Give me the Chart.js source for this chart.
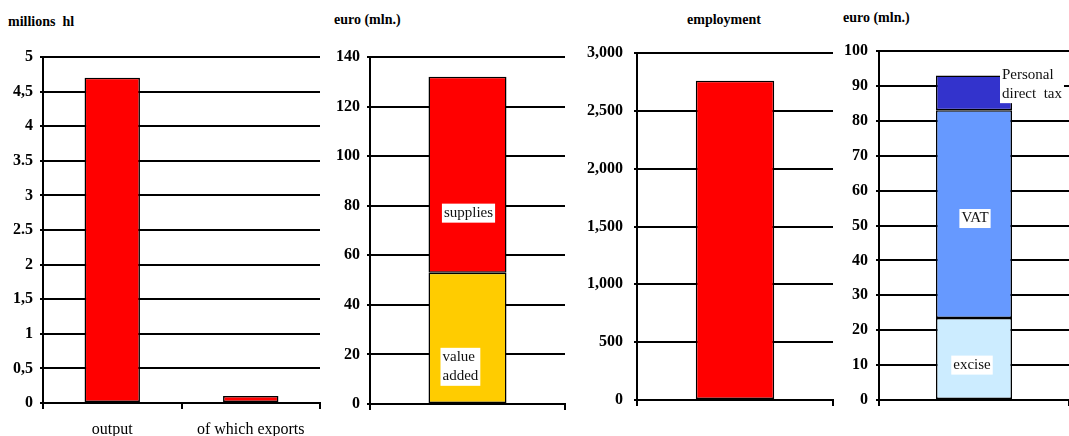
<!DOCTYPE html>
<html>
<head>
<meta charset="utf-8">
<script src="https://cdn.jsdelivr.net/npm/chart.js@4.4.1/dist/chart.umd.min.js"></script>
<style>
body { margin: 0; background: #fff; }
#wrap { position: relative; width: 1069px; height: 436px; overflow: hidden; }
canvas { position: absolute; top: 0; }
.ttl { position: absolute; font: bold 14px "Liberation Serif", serif; white-space: pre; color: #000; }
</style>
</head>
<body>
<div id="wrap">
  <div class="ttl" style="left:8px;top:14px">millions  hl</div>
  <div class="ttl" style="left:334px;top:12px">euro (mln.)</div>
  <div class="ttl" style="left:687px;top:12px">employment</div>
  <div class="ttl" style="left:843px;top:10px">euro (mln.)</div>
  <canvas id="volume" width="322" height="436" style="left:0px"></canvas>
  <canvas id="value" width="245" height="436" style="left:322px"></canvas>
  <canvas id="jobs" width="268" height="436" style="left:567px"></canvas>
  <canvas id="taxes" width="234" height="436" style="left:835px"></canvas>
</div>
<script>
// beer volumes (millions hl)
const volumeCats = ['output', 'of which exports'];
const volumeValues = [4.7, 0.1];
const volumeTicks = ['0', '0,5', '1', '1,5', '2', '2.5', '3', '3.5', '4', '4,5', '5'];

// value of output (euro mln.)
const valueAdded = [53];
const supplies = [79];

// employment
const employment = [2760];

// tax revenues (euro mln.)
const excise = [23.5];
const vat = [59.5];
const directTax = [10];

const serif = '"Liberation Serif", "Times New Roman", serif';

// white boxed text on/next to a bar segment
function boxLabels(items) {
    return {
        id: 'boxLabels',
        afterDatasetsDraw(chart) {
            const ctx = chart.ctx;
            const y = chart.scales.y;
            const lh = 19;
            items.forEach(it => {
                const bar = chart.getDatasetMeta(it.ds).data[0];
                ctx.save();
                ctx.font = '15px ' + serif;
                const w = Math.max(...it.lines.map(l => ctx.measureText(l).width));
                const h = it.lines.length * lh;
                const cy = y.getPixelForValue(it.at);
                const x0 = it.align === 'left' ? bar.x + it.dx : bar.x + it.dx - w / 2;
                ctx.fillStyle = '#fff';
                ctx.fillRect(x0 - 2, cy - h / 2, w + 4, h);
                ctx.fillStyle = '#111';
                ctx.textAlign = 'left';
                ctx.textBaseline = 'middle';
                it.lines.forEach((l, i) => ctx.fillText(l, x0, cy - h / 2 + lh * (i + 0.5)));
                ctx.restore();
            });
        }
    };
}

function bar(data, color) {
    return {
        data: data,
        backgroundColor: color,
        borderColor: '#000',
        borderWidth: 1.5,
        borderSkipped: false,
        categoryPercentage: 1,
        barPercentage: 0.4
    };
}

function panel(id, labels, datasets, y, axisW, bottomH, padRight, items) {
    return new Chart(document.getElementById(id), {
        type: 'bar',
        data: { labels: labels, datasets: datasets },
        options: {
            responsive: false,
            animation: false,
            layout: { padding: { top: y.top, right: padRight, left: 0, bottom: 0 } },
            plugins: { legend: { display: false }, tooltip: { enabled: false } },
            scales: {
                x: {
                    stacked: true,
                    grid: { drawOnChartArea: false, color: '#000', lineWidth: 2, tickLength: 6, offset: true },
                    border: { color: '#000', width: 2 },
                    ticks: { color: '#000', font: { family: serif, size: 16 }, padding: 11 },
                    afterFit: s => { s.height = bottomH; }
                },
                y: {
                    stacked: true,
                    min: 0,
                    max: y.max,
                    grid: { color: '#000', lineWidth: 2, tickLength: 3 },
                    border: { color: '#000', width: 2 },
                    ticks: {
                        stepSize: y.step,
                        color: '#000',
                        padding: y.pad,
                        font: { family: serif, size: 16, weight: 'bold' },
                        callback: y.fmt
                    },
                    afterFit: s => { s.width = axisW; }
                }
            }
        },
        plugins: [boxLabels(items)]
    });
}

panel('volume', volumeCats, [bar(volumeValues, '#FF0000')],
    { top: 57, max: 5, step: 0.5, pad: 7, fmt: (v, i) => volumeTicks[i] },
    43, 33, 2, []);

panel('value', [''], [bar(valueAdded, '#FFCC00'), bar(supplies, '#FF0000')],
    { top: 57, max: 140, step: 20, pad: 7, fmt: v => v },
    48, 32, 2, [
        { ds: 1, at: 77, lines: ['supplies'], align: 'center', dx: 1 },
        { ds: 0, at: 15, lines: ['value', 'added'], align: 'left', dx: -25 }
    ]);

panel('jobs', [''], [bar(employment, '#FF0000')],
    { top: 53, max: 3000, step: 500, pad: 11, fmt: v => v.toLocaleString('en-US') },
    70, 36, 2, []);

panel('taxes', [''], [bar(excise, '#CCECFF'), bar(vat, '#6699FF'), bar(directTax, '#3333CC')],
    { top: 51, max: 100, step: 10, pad: 8, fmt: v => v },
    44, 36, 0, [
        { ds: 1, at: 52, lines: ['VAT'], align: 'center', dx: 1 },
        { ds: 0, at: 10, lines: ['excise'], align: 'center', dx: -2 },
        { ds: 2, at: 90.5, lines: ['Personal', 'direct  tax'], align: 'left', dx: 28 }
    ]);
</script>
</body>
</html>
